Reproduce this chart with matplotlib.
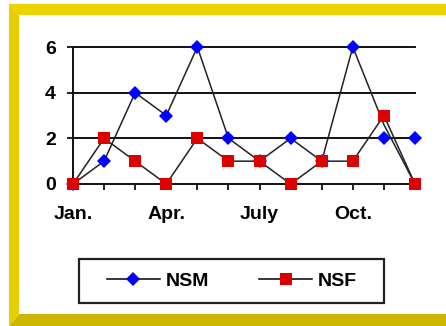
import matplotlib
matplotlib.use('Agg')
import matplotlib.pyplot as plt
from matplotlib.patches import Polygon, Rectangle
from matplotlib.lines import Line2D

plt.rcParams['font.family'] = ['Liberation Sans', 'DejaVu Sans']

# Monthly counts
months = ['Jan.', 'Feb.', 'Mar.', 'Apr.', 'May', 'June',
          'July', 'Aug.', 'Sept.', 'Oct.', 'Nov.', 'Dec.']
nsm = [0, 1, 4, 3, 6, 2, 1, 2, 1, 6, 2, 2]
nsf = [0, 2, 1, 0, 2, 1, 1, 0, 1, 1, 3, 0]
# connecting line of the NSM series as it was plotted
nsm_line = [0, 1, 4, 3, 6, 2, 1, 2, 1, 6, 2.6, 0]
yticks = [0, 2, 4, 6]

W, H = 446, 326
fig = plt.figure(figsize=(W / 100, H / 100), dpi=100)
fig.patch.set_facecolor('white')


def px(points):
    # pixel coords (top-left origin) -> figure fraction
    return [(x / W, 1 - y / H) for x, y in points]


# yellow bevelled frame
frame = [
    ([(9, 4), (446, 4), (446, 15), (19, 15)], '#EDD400'),
    ([(9, 4), (19, 15), (19, 314), (9, 326)], '#E6CE00'),
    ([(9, 326), (19, 314), (446, 314), (446, 326)], '#CDB700'),
]
for pts, col in frame:
    fig.patches.append(Polygon(px(pts), closed=True, transform=fig.transFigure,
                               facecolor=col, edgecolor='none'))

ax = fig.add_axes([73 / W, 1 - 184 / H, 342 / W, 137 / H])
ax.set_facecolor('none')
x = list(range(len(months)))

for y in yticks[1:]:
    ax.axhline(y, color='#111111', lw=1.4, clip_on=False, zorder=1)

ax.plot(x, nsm_line, color='#222222', lw=1.1, zorder=2, clip_on=False)
ax.plot(x, nsf, color='#222222', lw=1.1, zorder=2, clip_on=False)
ax.plot(x, nsm, ls='none', marker='D', ms=7.6, color='#0000FF',
        markeredgewidth=0, zorder=3, clip_on=False)
ax.plot(x, nsf, ls='none', marker='s', ms=8.6, color='#DD0000',
        markeredgewidth=0, zorder=4, clip_on=False)

ax.set_xlim(0, 11)
ax.set_ylim(0, 6)
ax.set_xticks(x)
ax.set_xticklabels([m if i % 3 == 0 else '' for i, m in enumerate(months)],
                   fontsize=14, fontweight='bold')
ax.set_yticks(yticks)
ax.set_yticklabels([str(v) for v in yticks], fontsize=14, fontweight='bold')
ax.tick_params(axis='x', length=4, width=1.3, pad=12, color='#111111')
ax.tick_params(axis='y', length=4.5, width=1.3, pad=8, color='#111111')

for s in ['top', 'right']:
    ax.spines[s].set_visible(False)
for s in ['left', 'bottom']:
    ax.spines[s].set_linewidth(1.4)
    ax.spines[s].set_color('#111111')

# legend box
fig.patches.append(Rectangle((79 / W, 1 - 303 / H), 305 / W, 44 / H,
                             transform=fig.transFigure, facecolor='white',
                             edgecolor='#222222', linewidth=1.6, zorder=5))
handles = [
    Line2D([], [], color='black', lw=1.1, marker='D', ms=7.6,
           markerfacecolor='#0000FF', markeredgewidth=0),
    Line2D([], [], color='black', lw=1.1, marker='s', ms=8.6,
           markerfacecolor='#DD0000', markeredgewidth=0),
]
leg = fig.legend(handles, ['NSM', 'NSF'], loc='center',
                 bbox_to_anchor=(232 / W, 1 - 281 / H), ncol=2,
                 prop={'size': 14, 'weight': 'bold'}, frameon=False,
                 handlelength=2.7, handletextpad=0.3, columnspacing=2.6)
leg.set_zorder(6)

fig.savefig('out.png', dpi=100)
